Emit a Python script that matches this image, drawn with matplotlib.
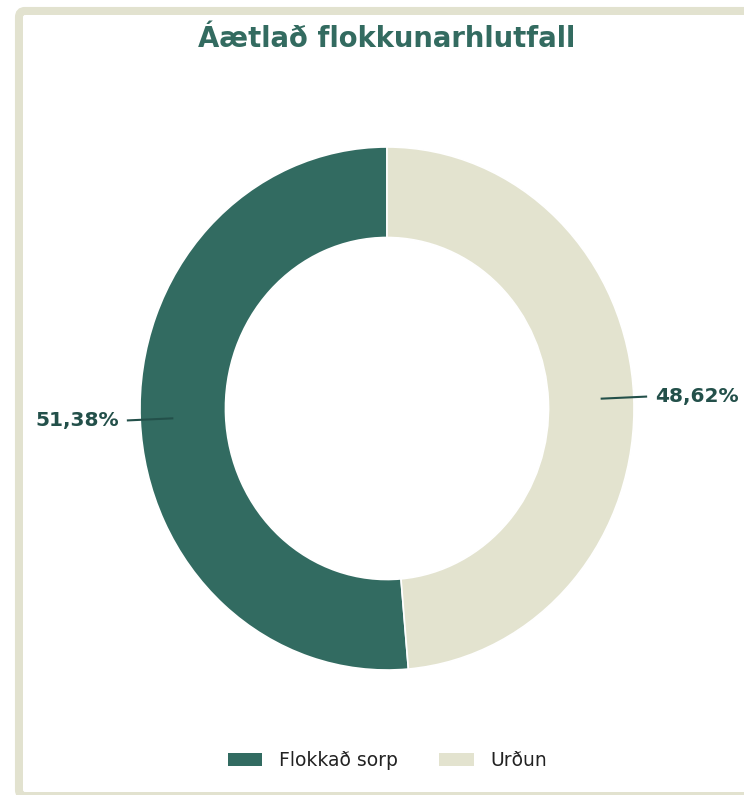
import numpy as np
import matplotlib.pyplot as plt
from matplotlib.patches import FancyBboxPatch, Patch

flokkar = ['Flokkað sorp', 'Urðun']
hlutfall = [51.38, 48.62]
litir = ['#326b61', '#e3e3cf']
titill = 'Áætlað flokkunarhlutfall'

dokkt = '#23504a'

fig = plt.figure(figsize=(7.44, 7.95), dpi=100)

# ramminn utan um myndina
rammi = FancyBboxPatch((0.0255, -0.0013), 0.985, 0.9875,
                       boxstyle='round,pad=0,rounding_size=0.008',
                       transform=fig.transFigure, facecolor='white',
                       edgecolor='#e2e2cf', linewidth=5.8, zorder=-1)
fig.patches.append(rammi)

ax = fig.add_axes([0, 0, 1, 1])
ax.patch.set_alpha(0)
wedges, _ = ax.pie(hlutfall, colors=litir, startangle=90, counterclock=True,
                   wedgeprops=dict(width=0.346, edgecolor='white', linewidth=1.2))
ax.set_aspect('auto')
ax.set_xlim(-387 / 247, (744 - 387) / 247)
ax.set_ylim(-386.5 / 261.5, (795 - 386.5) / 261.5)
ax.axis('off')

# merkingar med hlutfollum
for w, v in zip(wedges, hlutfall):
    horn = np.deg2rad((w.theta1 + w.theta2) / 2)
    c, s = np.cos(horn), np.sin(horn)
    ax.plot([0.87 * c, 1.05 * c], [0.87 * s, 1.05 * s], color=dokkt, lw=1.5)
    ax.text(1.085 * c, 1.085 * s, f'{v:.2f}%'.replace('.', ','),
            ha='left' if c > 0 else 'right', va='center',
            fontsize=14.5, fontweight='bold', color=dokkt)

fig.text(0.52, 0.951, titill, ha='center', va='center', fontsize=19.8,
         fontweight='bold', color='#336b60')

handles = [Patch(facecolor=l, edgecolor='none') for l in litir]
fig.legend(handles, flokkar, loc='center', bbox_to_anchor=(0.521, 0.043),
           ncol=2, frameon=False, fontsize=13.5, handlelength=1.85,
           handleheight=0.65, handletextpad=0.9, columnspacing=2.2,
           labelcolor='#222222')

fig.savefig('out.png', dpi=100)
